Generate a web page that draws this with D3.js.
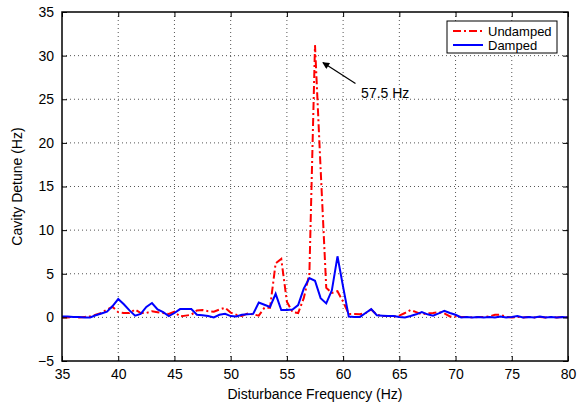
<!DOCTYPE html>
<html>
<head>
<meta charset="utf-8">
<script src="https://cdn.jsdelivr.net/npm/d3@7"></script>
<style>
  body { margin: 0; background: #fff; }
  svg { font-family: "Liberation Sans", Arial, sans-serif; }
</style>
</head>
<body>
<div id="chart"></div>
<script>
// frequency grid (Hz), 0.5 Hz steps
const freqs = d3.range(35, 80.01, 0.5);

const undamped = [
  0.0, 0.0, 0.05, 0.0, 0.05, 0.1, 0.3, 0.5, 0.9, 1.2,   // 35 - 39.5
  0.6, 0.5, 0.5, 0.9, 0.5, 0.5, 0.7, 0.6, 0.5, 0.4,     // 40 - 44.5
  0.65, 0.1, 0.2, 0.3, 0.8, 0.85, 0.7, 0.65, 0.9, 1.1,  // 45 - 49.5
  0.55, 0.3, 0.15, 0.45, 0.35, 0.2, 1.1, 1.1, 6.2, 6.7, // 50 - 54.5
  1.8, 0.6, 0.5, 2.2, 5.0, 31.2, 17.0, 3.4, 2.8, 3.0,   // 55 - 59.5
  1.8, 0.4, 0.4, 0.35, 0.5, 0.9, 0.3, 0.15, 0.15, 0.1,  // 60 - 64.5
  0.2, 0.5, 0.85, 0.6, 0.35, 0.45, 0.5, 0.6, 0.45, 0.1, // 65 - 69.5
  0.1, 0.05, 0.05, 0.0, 0.05, 0.05, 0.1, 0.3, 0.3, 0.05,// 70 - 74.5
  0.0, 0.05, 0.0, 0.05, 0.0, 0.05, 0.0, 0.05, 0.0, 0.05,// 75 - 79.5
  0.0                                                   // 80
];

const damped = [
  0.1, 0.1, 0.05, 0.05, 0.0, 0.0, 0.25, 0.45, 0.65, 1.3, // 35 - 39.5
  2.1, 1.5, 0.8, 0.2, 0.4, 1.2, 1.65, 0.9, 0.6, 0.15,    // 40 - 44.5
  0.5, 0.95, 0.95, 0.95, 0.3, 0.25, 0.15, 0.0, 0.3, 0.4, // 45 - 49.5
  0.15, 0.1, 0.3, 0.35, 0.4, 1.7, 1.45, 1.2, 2.7, 0.85,  // 50 - 54.5
  0.85, 0.9, 1.4, 3.3, 4.5, 4.2, 2.2, 1.6, 3.1, 7.0,     // 55 - 59.5
  3.5, 0.1, 0.05, 0.05, 0.5, 0.95, 0.25, 0.2, 0.15, 0.15,// 60 - 64.5
  0.05, 0.0, 0.15, 0.35, 0.6, 0.35, 0.2, 0.45, 0.75, 0.5,// 65 - 69.5
  0.3, 0.0, 0.05, 0.0, 0.05, 0.0, 0.05, 0.0, 0.1, 0.0,   // 70 - 74.5
  0.05, 0.15, 0.0, 0.05, 0.0, 0.1, 0.0, 0.05, 0.0, 0.05, // 75 - 79.5
  0.0                                                    // 80
];

const xTicks = [35, 40, 45, 50, 55, 60, 65, 70, 75, 80];
const yTicks = [-5, 0, 5, 10, 15, 20, 25, 30, 35];

const W = 587, H = 406;
const margin = { top: 12, right: 19, bottom: 45, left: 62 };
const width = W - margin.left - margin.right;
const height = H - margin.top - margin.bottom;

const svg = d3.select("#chart").append("svg")
  .attr("width", W)
  .attr("height", H);

const g = svg.append("g")
  .attr("transform", `translate(${margin.left},${margin.top})`);

const x = d3.scaleLinear().domain([35, 80]).range([0, width]);
const y = d3.scaleLinear().domain([-5, 35]).range([height, 0]);

// dotted grid
g.append("g").selectAll("line")
  .data(xTicks.slice(1, -1))
  .join("line")
  .attr("x1", d => x(d)).attr("x2", d => x(d))
  .attr("y1", 0).attr("y2", height)
  .attr("stroke", "#555").attr("stroke-width", 1)
  .attr("stroke-dasharray", "1,3");

g.append("g").selectAll("line")
  .data(yTicks.slice(1, -1))
  .join("line")
  .attr("x1", 0).attr("x2", width)
  .attr("y1", d => y(d)).attr("y2", d => y(d))
  .attr("stroke", "#555").attr("stroke-width", 1)
  .attr("stroke-dasharray", "1,3");

// series
const line = d3.line()
  .x((d, i) => x(freqs[i]))
  .y(d => y(d));

g.append("path")
  .datum(undamped)
  .attr("fill", "none")
  .attr("stroke", "#ff0000")
  .attr("stroke-width", 2)
  .attr("stroke-dasharray", "8,3,2,3")
  .attr("d", line);

g.append("path")
  .datum(damped)
  .attr("fill", "none")
  .attr("stroke", "#0000ff")
  .attr("stroke-width", 2)
  .attr("d", line);

// axes (ticks inward, box on all sides)
const tickLen = 5;
g.append("g")
  .attr("transform", `translate(0,${height})`)
  .call(d3.axisBottom(x).tickValues(xTicks).tickSizeInner(-tickLen).tickSizeOuter(0).tickPadding(8));
g.append("g")
  .call(d3.axisLeft(y).tickValues(yTicks).tickSizeInner(-tickLen).tickSizeOuter(0).tickPadding(8));
g.append("g")
  .call(d3.axisTop(x).tickValues(xTicks).tickSizeInner(-tickLen).tickSizeOuter(0).tickFormat(""));
g.append("g")
  .attr("transform", `translate(${width},0)`)
  .call(d3.axisRight(y).tickValues(yTicks).tickSizeInner(-tickLen).tickSizeOuter(0).tickFormat(""));

g.selectAll(".domain").remove();
g.selectAll(".tick line").attr("stroke", "#000").attr("stroke-width", 1);
g.selectAll(".tick text")
  .attr("fill", "#000")
  .style("font-size", "14px")
  .style("font-family", "'Liberation Sans', Arial, sans-serif");

g.append("rect")
  .attr("x", 0).attr("y", 0)
  .attr("width", width).attr("height", height)
  .attr("fill", "none")
  .attr("stroke", "#000")
  .attr("stroke-width", 1.5);

// axis labels
svg.append("text")
  .attr("x", margin.left + width / 2)
  .attr("y", H - 7)
  .attr("text-anchor", "middle")
  .style("font-size", "14px")
  .text("Disturbance Frequency (Hz)");

svg.append("text")
  .attr("transform", `translate(22,${margin.top + height / 2}) rotate(-90)`)
  .attr("text-anchor", "middle")
  .style("font-size", "14px")
  .text("Cavity Detune (Hz)");

// annotation arrow
const defs = svg.append("defs");
defs.append("marker")
  .attr("id", "arrow")
  .attr("viewBox", "0 0 10 10")
  .attr("refX", 9).attr("refY", 5)
  .attr("markerWidth", 9).attr("markerHeight", 7)
  .attr("markerUnits", "userSpaceOnUse")
  .attr("orient", "auto")
  .append("path")
  .attr("d", "M0,0 L10,5 L0,10 Z")
  .attr("fill", "#000");

g.append("line")
  .attr("x1", x(61.1)).attr("y1", y(26.8))
  .attr("x2", x(58.2)).attr("y2", y(29.2))
  .attr("stroke", "#000")
  .attr("stroke-width", 1.2)
  .attr("marker-end", "url(#arrow)");

g.append("text")
  .attr("x", x(61.6))
  .attr("y", y(25.2))
  .style("font-size", "14px")
  .text("57.5 Hz");

// legend
const lg = svg.append("g").attr("transform", "translate(447,21)");
lg.append("rect")
  .attr("width", 110).attr("height", 32)
  .attr("fill", "#fff")
  .attr("stroke", "#000")
  .attr("stroke-width", 1);

const legendItems = [
  { name: "Undamped", color: "#ff0000", dash: "8,3,2,3" },
  { name: "Damped", color: "#0000ff", dash: null }
];
legendItems.forEach((d, i) => {
  const yy = 10 + i * 14;
  lg.append("line")
    .attr("x1", 6).attr("x2", 36)
    .attr("y1", yy).attr("y2", yy)
    .attr("stroke", d.color)
    .attr("stroke-width", 2)
    .attr("stroke-dasharray", d.dash);
  lg.append("text")
    .attr("x", 41).attr("y", yy + 4.5)
    .style("font-size", "13px")
    .text(d.name);
});
</script>
</body>
</html>
